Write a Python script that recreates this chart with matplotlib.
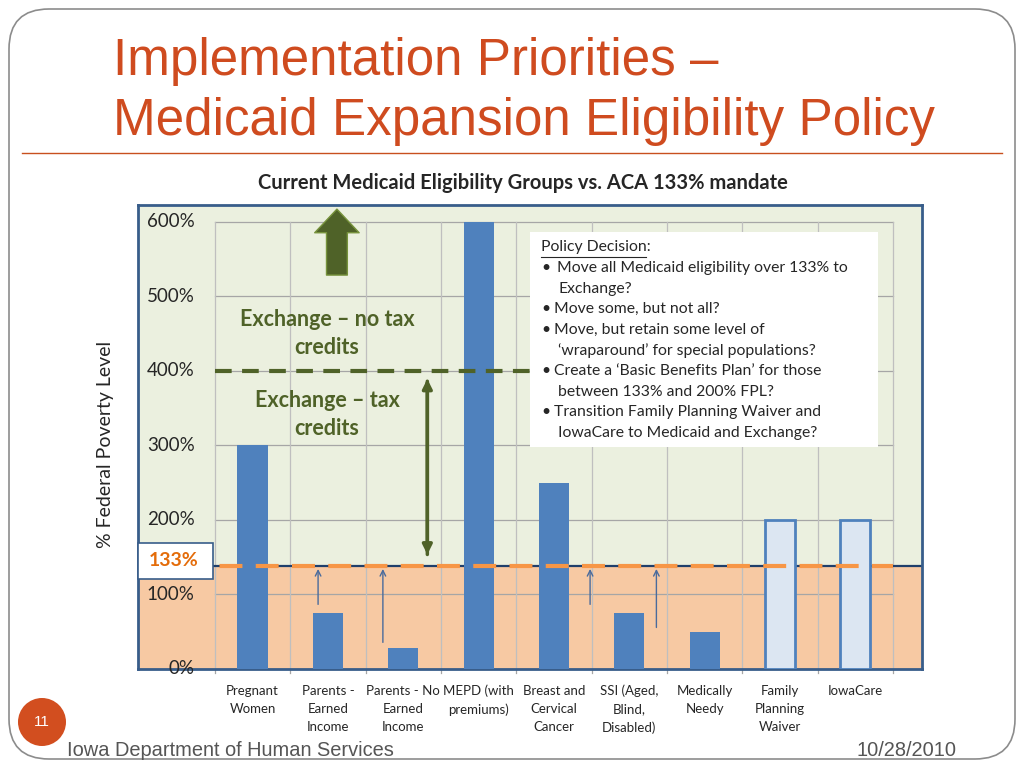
import matplotlib.pyplot as plt
from matplotlib.patches import Rectangle, FancyBboxPatch, Circle, FancyArrowPatch

# data
categories = ['Pregnant\nWomen', 'Parents -\nEarned\nIncome', 'Parents - No\nEarned\nIncome',
              'MEPD (with\npremiums)', 'Breast and\nCervical\nCancer', 'SSI (Aged,\nBlind,\nDisabled)',
              'Medically\nNeedy', 'Family\nPlanning\nWaiver', 'IowaCare']
fpl = [300, 75, 28, 600, 250, 75, 50, 200, 200]
proposed = [False, False, False, False, False, False, False, True, True]
yticks = [0, 100, 200, 300, 400, 500, 600]
mandate = 138          # where the 133% line sits on the slide
exchange_cap = 400
policy_lines = [
    ('Move all Medicaid eligibility over 133% to', 'Exchange?'),
    ('Move some, but not all?', None),
    ('Move, but retain some level of', '‘wraparound’ for special populations?'),
    ('Create a ‘Basic Benefits Plan’ for those', 'between 133% and 200% FPL?'),
    ('Transition Family Planning Waiver and', 'IowaCare to Medicaid and Exchange?'),
]

BLUE = '#4F81BD'
DKGREEN = '#4F6228'
ORANGE = '#F79646'
NAVY = '#385D8A'
SLIDE_RED = '#CF4B1F'
CAL = ['Lato', 'DejaVu Sans']
ARIAL = ['Liberation Sans', 'DejaVu Sans']
TXT = '#262626'

fig = plt.figure(figsize=(10.24, 7.68), dpi=100)

# background overlay in pixel coordinates
bg = fig.add_axes([0, 0, 1, 1], zorder=0)
bg.set_xlim(0, 1024)
bg.set_ylim(768, 0)
bg.axis('off')
bg.add_patch(FancyBboxPatch((9, 9), 1006, 750, boxstyle='round,pad=0,rounding_size=40',
                            fc='white', ec='#8C8C8C', lw=1.2))
bg.text(113, 62, 'Implementation Priorities –', fontsize=36.8, color=SLIDE_RED,
        family=ARIAL, va='center', ha='left')
bg.text(113, 122, 'Medicaid Expansion Eligibility Policy', fontsize=36.8, color=SLIDE_RED,
        family=ARIAL, va='center', ha='left')
bg.plot([22, 1002], [153, 153], color='#C8501E', lw=1)
bg.text(523, 183, 'Current Medicaid Eligibility Groups vs. ACA 133% mandate', fontsize=14.5,
        fontweight='bold', family=CAL, ha='center', va='center', color=TXT)
bg.text(106, 444, '% Federal Poverty Level', rotation=90, fontsize=14, family=CAL,
        ha='center', va='center', color=TXT)
bg.add_patch(Circle((42, 722), 24, fc='#D24E1F', ec='none'))
bg.text(42, 722, '11', color='white', fontsize=11, family=ARIAL, ha='center', va='center')
bg.text(67, 750, 'Iowa Department of Human Services', fontsize=14.4,
        family=ARIAL, color='#555555', va='center')
bg.text(957, 750, '10/28/2010', fontsize=14.4,
        family=ARIAL, color='#555555', va='center', ha='right')

# chart axes
ax = fig.add_axes([138 / 1024, 1 - 669 / 768, (922 - 138) / 1024, (669 - 205) / 768], zorder=1)
xl, xr = -1.52, 8.885
ax.set_xlim(xl, xr)
ax.set_ylim(0, 622.8)
ax.set_xticks([])
ax.set_yticks([])
for s in ax.spines.values():
    s.set_color(NAVY)
    s.set_linewidth(2)
ax.set_facecolor('#EBF0DF')

ax.add_patch(Rectangle((xl, 0), xr - xl, mandate, fc='#F7C9A3', ec='none', zorder=0))
ax.plot([xl, xr], [mandate, mandate], color='#1F3F6B', lw=1.6, zorder=2)

n = len(categories)
for t in yticks[1:]:
    ax.plot([-0.5, n - 0.5], [t, t], color='#A6A6A6', lw=0.9, zorder=1)
for b in range(n + 1):
    ax.plot([b - 0.5, b - 0.5], [0, yticks[-1]], color='#BFBFBF', lw=0.9, zorder=1)
    ax.plot([b - 0.5, b - 0.5], [0, -6], color='#A6A6A6', lw=0.9, clip_on=False)
for t in yticks:
    ax.text(-0.77, t, f'{t}%', ha='right', va='center', fontsize=13.5, family=CAL, color=TXT)

for i, (v, p) in enumerate(zip(fpl, proposed)):
    if p:
        ax.bar(i, v, width=0.4, color='#DCE6F2', edgecolor=BLUE, lw=2, zorder=3)
    else:
        ax.bar(i, v, width=0.4, color=BLUE, zorder=3)
    ax.text(i, -21, categories[i], ha='center', va='top', fontsize=9.5, family=CAL,
            color=TXT, linespacing=1.6, clip_on=False)

# lines
ax.plot([-0.5, 3.7], [exchange_cap, exchange_cap], color=DKGREEN, lw=3, dashes=(4, 2.5), zorder=4)
ax.plot([-1.4, n - 0.5], [mandate, mandate], color=ORANGE, lw=3, dashes=(5.5, 3.2), zorder=4)

# arrows
ax.add_patch(FancyArrowPatch((1.12, 525), (1.12, 621),
                             arrowstyle='simple,head_length=17,head_width=32,tail_width=15',
                             mutation_scale=1, fc=DKGREEN, ec='#77933C', lw=1, zorder=5))
ax.annotate('', xy=(2.32, 393), xytext=(2.32, 150),
            arrowprops=dict(arrowstyle='-|>', color=DKGREEN, lw=2.5, mutation_scale=14), zorder=5)
ax.annotate('', xy=(2.32, 150), xytext=(2.32, 390),
            arrowprops=dict(arrowstyle='-|>', color=DKGREEN, lw=2.5, mutation_scale=14), zorder=5)
for x0, y0 in [(0.87, 83), (1.73, 32), (4.48, 83), (5.36, 52)]:
    ax.annotate('', xy=(x0, mandate), xytext=(x0, y0),
                arrowprops=dict(arrowstyle='->', color='#4A6B9C', lw=1, mutation_scale=10), zorder=5)

ax.text(0.99, 450, 'Exchange – no tax\ncredits', ha='center', va='center', fontsize=15.5,
        fontweight='bold', family=CAL, color=DKGREEN, linespacing=1.4, zorder=5)
ax.text(0.99, 342, 'Exchange – tax\ncredits', ha='center', va='center', fontsize=15.5,
        fontweight='bold', family=CAL, color=DKGREEN, linespacing=1.4, zorder=5)

# 133% label box
ax.add_patch(Rectangle((xl, mandate - 17), 1.0, 48, fc='white', ec=NAVY, lw=1.2, zorder=6,
                       clip_on=False))
ax.text(xl + 0.47, mandate + 7, '133%', ha='center', va='center', fontsize=14, fontweight='bold',
        family=CAL, color='#E46C0A', zorder=7)

# policy box overlay
fg = fig.add_axes([0, 0, 1, 1], zorder=2)
fg.set_xlim(0, 1024)
fg.set_ylim(768, 0)
fg.axis('off')
fg.add_patch(Rectangle((530, 232), 348, 215, fc='white', ec='none'))
fs = 11.3
fg.text(541, 247, 'Policy Decision:', fontsize=fs, family=CAL, va='center', color=TXT)
fg.plot([541, 646], [257, 257], color=TXT, lw=0.8)
y = 268
for k, (first, second) in enumerate(policy_lines):
    fg.text(541, y, '•', fontsize=fs, family=CAL, va='center', color=TXT)
    fg.text(557 if k == 0 else 554, y, first, fontsize=fs, family=CAL, va='center', color=TXT)
    y += 20.6
    if second:
        fg.text(558, y, second, fontsize=fs, family=CAL, va='center', color=TXT)
        y += 20.6

fig.savefig('out.png', dpi=100)
